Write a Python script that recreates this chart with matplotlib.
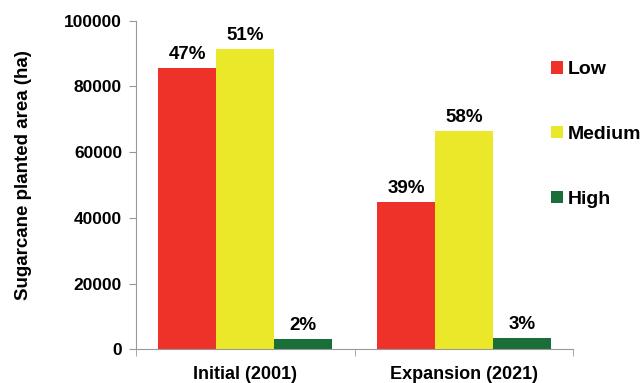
import matplotlib.pyplot as plt
import numpy as np

plt.rcParams['font.family'] = ['Liberation Sans', 'DejaVu Sans']
plt.rcParams['font.weight'] = 'bold'

categories = ['Initial (2001)', 'Expansion (2021)']
series = ['Low', 'Medium', 'High']
low = [85600, 44800]
medium = [91400, 66300]
high = [3250, 3550]
pct_low = ['47%', '39%']
pct_medium = ['51%', '58%']
pct_high = ['2%', '3%']
colors = ['#ee3129', '#ebe82a', '#1a6e38']

fig = plt.figure(figsize=(6.44, 3.83), dpi=100)
ax = fig.add_axes([136/644, 1-349.3/383, 437.3/644, 328.6/383])

x = np.arange(len(categories))
w = 0.265
values = [low, medium, high]
pcts = [pct_low, pct_medium, pct_high]
for i in range(3):
    pos = x + (i - 1) * w
    bars = ax.bar(pos, values[i], width=w, color=colors[i], label=series[i])
    for b, p in zip(bars, pcts[i]):
        ax.annotate(p, (b.get_x() + b.get_width()/2, b.get_height()),
                    xytext=(0, 6.5), textcoords='offset points',
                    ha='center', va='baseline', fontsize=13.5, fontweight='bold')

ax.set_xlim(-0.5, 1.5)
ax.set_ylim(0, 100000)
ax.set_yticks(range(0, 100001, 20000))
ax.set_xticks(x)
ax.set_xticklabels(categories, fontsize=13, fontweight='bold')
ax.set_xticks([-0.5, 0.5, 1.5], minor=True)
ax.tick_params(axis='x', which='major', length=0, pad=12)
ax.tick_params(axis='x', which='minor', length=5, color='#999999')
ax.tick_params(axis='y', length=5, pad=5, color='#999999', labelsize=12.5)
for lab in ax.get_yticklabels():
    lab.set_fontweight('bold')
ax.set_ylabel('Sugarcane planted area (ha)', fontsize=13.5, fontweight='bold')
ax.yaxis.set_label_coords(-0.238, 0.53)

ax.spines['top'].set_visible(False)
ax.spines['right'].set_visible(False)
ax.spines['left'].set_color('#999999')
ax.spines['bottom'].set_color('#999999')

fig.legend(loc='upper left', bbox_to_anchor=(551/644, 1-61/383), frameon=False,
           borderpad=0, borderaxespad=0,
           handlelength=0.62, handleheight=0.62, handletextpad=0.25,
           labelspacing=2.45, prop={'size': 14, 'weight': 'bold'})

fig.savefig('out.png', dpi=100)
